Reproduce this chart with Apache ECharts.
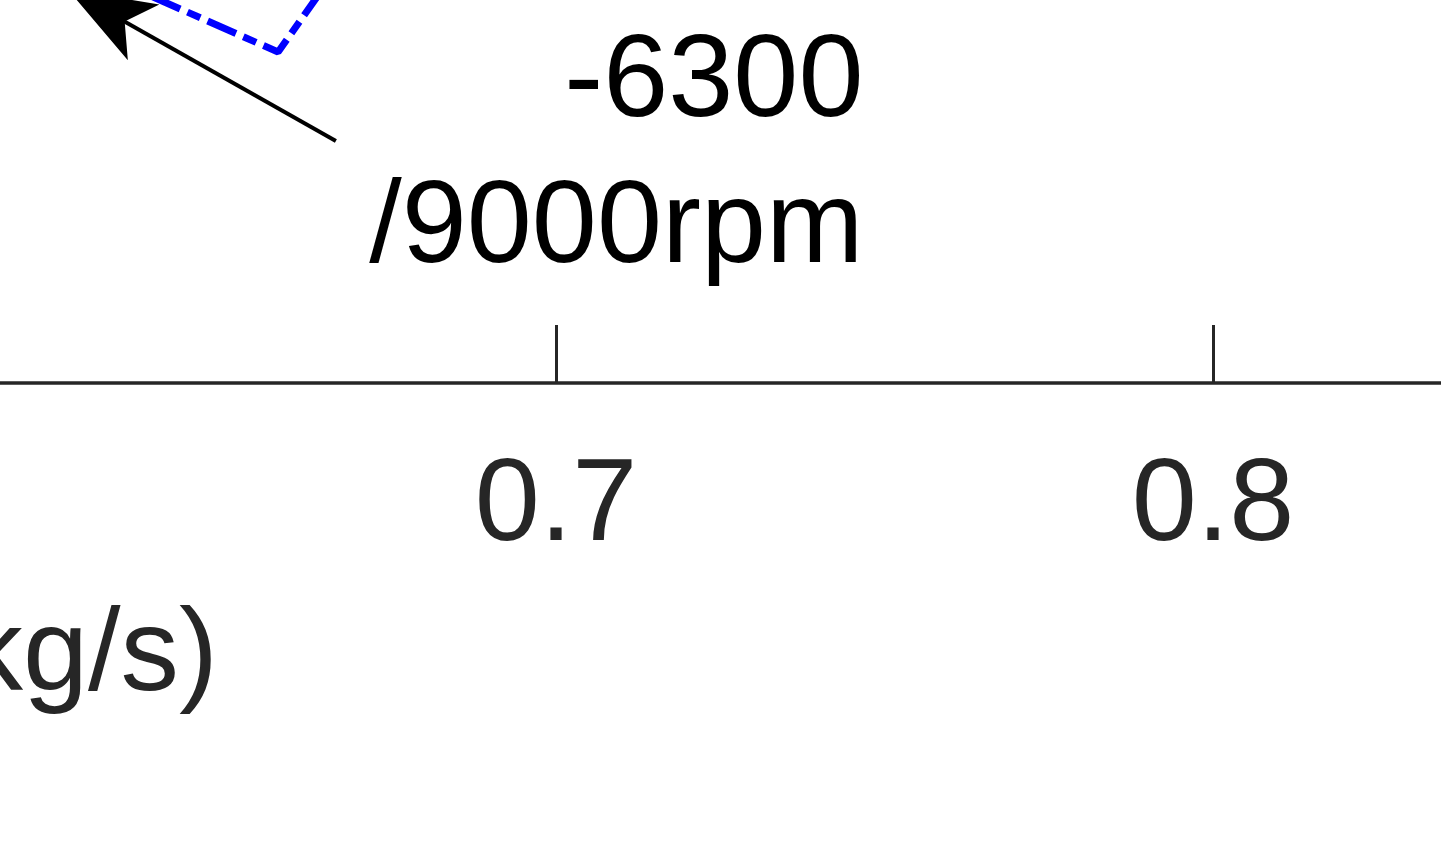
<!DOCTYPE html>
<html><head><meta charset="utf-8">
<script src="https://cdn.jsdelivr.net/npm/echarts@6/dist/echarts.min.js"></script>
<style>html,body{margin:0;padding:0;background:#fff}#c{width:1441px;height:852px}</style>
</head><body><div id="c"></div>
<script>
// ---- data ----
const xMin = 0.6, xMax = 0.9, xStep = 0.1;
const yMin = 1.0, yMax = 3.0;
const speedLineX = [0.6215, 0.6397, 0.6577, 0.6633, 0.6690];
const speedLineY = [1.872, 1.766, 1.662, 1.766, 1.870];
const arrowFrom = [0.6665, 1.484];
const arrowTo = [0.6257, 1.787];
const annotationLines = ['-6300', '/9000rpm'];
const annotationAt = [0.7468, 1.744];
const xAxisTitle = 'Mass flow rate (kg/s)';

const FONT = '"Liberation Sans", Arial, Helvetica, sans-serif';
const chart = echarts.init(document.getElementById('c'), null, {renderer: 'canvas'});
const lineData = speedLineX.map((x, i) => [x, speedLineY[i]]);

chart.setOption({
  animation: false,
  backgroundColor: '#ffffff',
  grid: {left: -101, width: 1971, top: -617, height: 1000, outerBoundsMode: 'none', containLabel: false},
  xAxis: {
    type: 'value', min: xMin, max: xMax, interval: xStep,
    axisLine: {show: true, lineStyle: {color: '#262626', width: 3.5}},
    axisTick: {show: true, inside: true, length: 58, lineStyle: {color: '#262626', width: 3}},
    axisLabel: {show: true, margin: 66, color: '#262626', fontSize: 117, fontFamily: FONT,
      showMinLabel: false, showMaxLabel: false,
      formatter: v => v.toFixed(1)},
    splitLine: {show: false}
  },
  yAxis: {
    type: 'value', min: yMin, max: yMax, show: false,
    splitLine: {show: false}
  },
  graphic: [{
    type: 'text', right: 1441 - 218, top: 599,
    style: {text: xAxisTitle, font: '117px ' + FONT, fill: '#262626'}
  }],
  series: [{
    type: 'line', data: lineData, symbol: 'none', clip: true,
    lineStyle: {color: '#0000ff', width: 7, type: [31, 8, 14, 8]},
    markLine: {
      silent: true, symbol: ['none', 'arrow'], symbolSize: [48, 87],
      lineStyle: {color: '#000000', width: 4, type: 'solid'},
      itemStyle: {color: '#000000'},
      label: {show: false},
      data: [[{coord: arrowFrom}, {coord: arrowTo}]]
    },
    markPoint: {
      silent: true, symbol: 'circle', symbolSize: 0,
      itemStyle: {color: 'transparent'},
      label: {show: true, position: [0, 0], align: 'right', verticalAlign: 'top',
        color: '#000000', fontSize: 117, lineHeight: 146, fontFamily: FONT,
        formatter: annotationLines.join('\n')},
      data: [{coord: annotationAt}]
    }
  }]
});
</script></body></html>
